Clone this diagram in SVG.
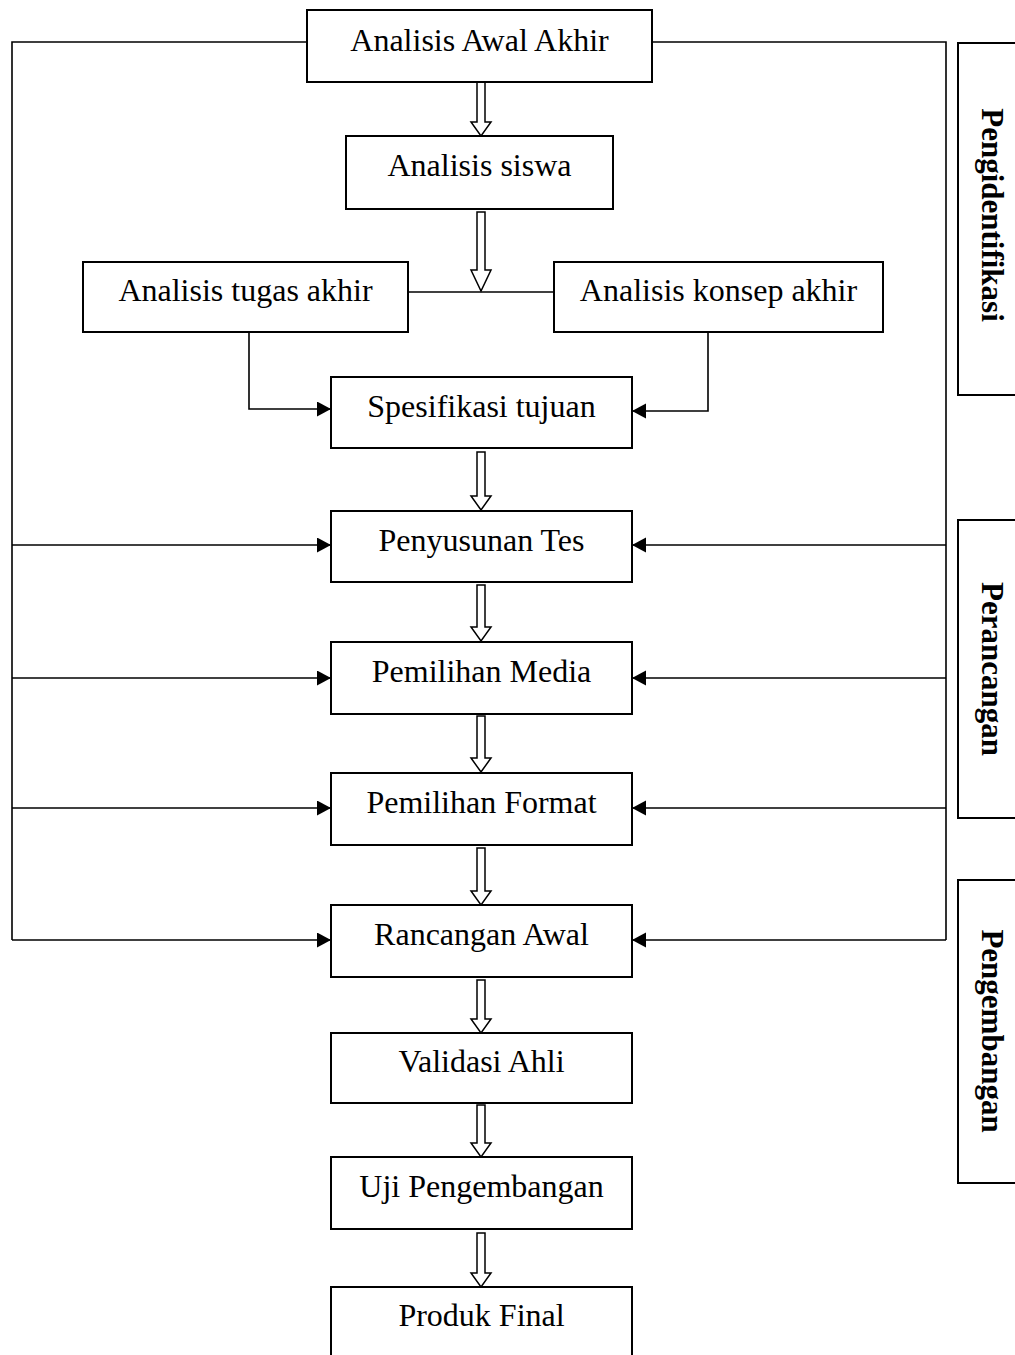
<svg xmlns="http://www.w3.org/2000/svg" width="1015" height="1355" viewBox="0 0 1015 1355">
<style>
  .box { fill: #fff; stroke: #000; stroke-width: 2; }
  .lbl { font-family: "Liberation Serif", "Times New Roman", serif; font-size: 32px; fill: #000; text-anchor: middle; }
  .side { font-family: "Liberation Serif", "Times New Roman", serif; font-size: 31px; font-weight: bold; fill: #000; text-anchor: middle; }
  .line { fill: none; stroke: #000; stroke-width: 1.6; }
  .arr { fill: none; stroke: #000; stroke-width: 1.6; marker-end: url(#head); }
  .hollow { fill: #fff; stroke: #000; stroke-width: 1.5; stroke-linejoin: miter; }
  .sidebox { fill: none; stroke: #000; stroke-width: 2; }
</style>
<defs>
  <marker id="head" markerUnits="userSpaceOnUse" markerWidth="15" markerHeight="16" refX="14" refY="7.5" orient="auto">
    <path d="M0,0 L14,7.5 L0,15 Z" fill="#000"/>
  </marker>
</defs>
<rect width="1015" height="1355" fill="#fff"/>

<g id="connectors">
  <!-- left loop -->
  <path class="line" d="M307,42 H12 V940"/>
  <path class="arr" d="M12,545 H331"/>
  <path class="arr" d="M12,678 H331"/>
  <path class="arr" d="M12,808 H331"/>
  <path class="arr" d="M12,940 H331"/>
  <!-- right loop -->
  <path class="line" d="M652,42 H946 V940"/>
  <path class="arr" d="M946,545 H632"/>
  <path class="arr" d="M946,678 H632"/>
  <path class="arr" d="M946,808 H632"/>
  <path class="arr" d="M946,940 H632"/>
  <!-- analysis row -->
  <path class="line" d="M408,292 H554"/>
  <path class="arr" d="M249,332 V409 H331"/>
  <path class="arr" d="M708,332 V411 H632"/>
  <!-- hollow arrows -->
  <path class="hollow" d="M477,82 H485 V122 H491 L481,136 L471,122 H477 Z"/>
  <path class="hollow" d="M477,212 H485 V270 H491 L481,291 L471,270 H477 Z"/>
  <path class="hollow" d="M477,452 H485 V496 H491 L481,510 L471,496 H477 Z"/>
  <path class="hollow" d="M477,585 H485 V627 H491 L481,641 L471,627 H477 Z"/>
  <path class="hollow" d="M477,716 H485 V758 H491 L481,772 L471,758 H477 Z"/>
  <path class="hollow" d="M477,848 H485 V891 H491 L481,905 L471,891 H477 Z"/>
  <path class="hollow" d="M477,980 H485 V1019 H491 L481,1033 L471,1019 H477 Z"/>
  <path class="hollow" d="M477,1105 H485 V1143 H491 L481,1157 L471,1143 H477 Z"/>
  <path class="hollow" d="M477,1233 H485 V1273 H491 L481,1287 L471,1273 H477 Z"/>
</g>

<g id="n-awal"><rect class="box" x="307" y="10" width="345" height="72"/><text class="lbl" x="479.5" y="51">Analisis Awal Akhir</text></g>
<g id="n-siswa"><rect class="box" x="346" y="136" width="267" height="73"/><text class="lbl" x="479.5" y="176">Analisis siswa</text></g>
<g id="n-tugas"><rect class="box" x="83" y="262" width="325" height="70"/><text class="lbl" x="245.5" y="301">Analisis tugas akhir</text></g>
<g id="n-konsep"><rect class="box" x="554" y="262" width="329" height="70"/><text class="lbl" x="718.5" y="301">Analisis konsep akhir</text></g>
<g id="n-spesifikasi"><rect class="box" x="331" y="377" width="301" height="71"/><text class="lbl" x="481.5" y="417">Spesifikasi tujuan</text></g>
<g id="n-tes"><rect class="box" x="331" y="511" width="301" height="71"/><text class="lbl" x="481.5" y="551">Penyusunan Tes</text></g>
<g id="n-media"><rect class="box" x="331" y="642" width="301" height="72"/><text class="lbl" x="481.5" y="682">Pemilihan Media</text></g>
<g id="n-format"><rect class="box" x="331" y="773" width="301" height="72"/><text class="lbl" x="481.5" y="813">Pemilihan Format</text></g>
<g id="n-rancangan"><rect class="box" x="331" y="905" width="301" height="72"/><text class="lbl" x="481.5" y="945">Rancangan Awal</text></g>
<g id="n-validasi"><rect class="box" x="331" y="1033" width="301" height="70"/><text class="lbl" x="481.5" y="1072">Validasi Ahli</text></g>
<g id="n-uji"><rect class="box" x="331" y="1157" width="301" height="72"/><text class="lbl" x="481.5" y="1197">Uji Pengembangan</text></g>
<g id="n-final"><rect class="box" x="331" y="1287" width="301" height="90"/><text class="lbl" x="481.5" y="1326">Produk Final</text></g>

<g id="s-identifikasi"><rect class="sidebox" x="958" y="43" width="100" height="352"/><text class="side" transform="translate(982,215) rotate(90)">Pengidentifikasi</text></g>
<g id="s-perancangan"><rect class="sidebox" x="958" y="520" width="100" height="298"/><text class="side" transform="translate(982,669) rotate(90)">Perancangan</text></g>
<g id="s-pengembangan"><rect class="sidebox" x="958" y="880" width="100" height="303"/><text class="side" transform="translate(982,1031) rotate(90)">Pengembangan</text></g>
</svg>
